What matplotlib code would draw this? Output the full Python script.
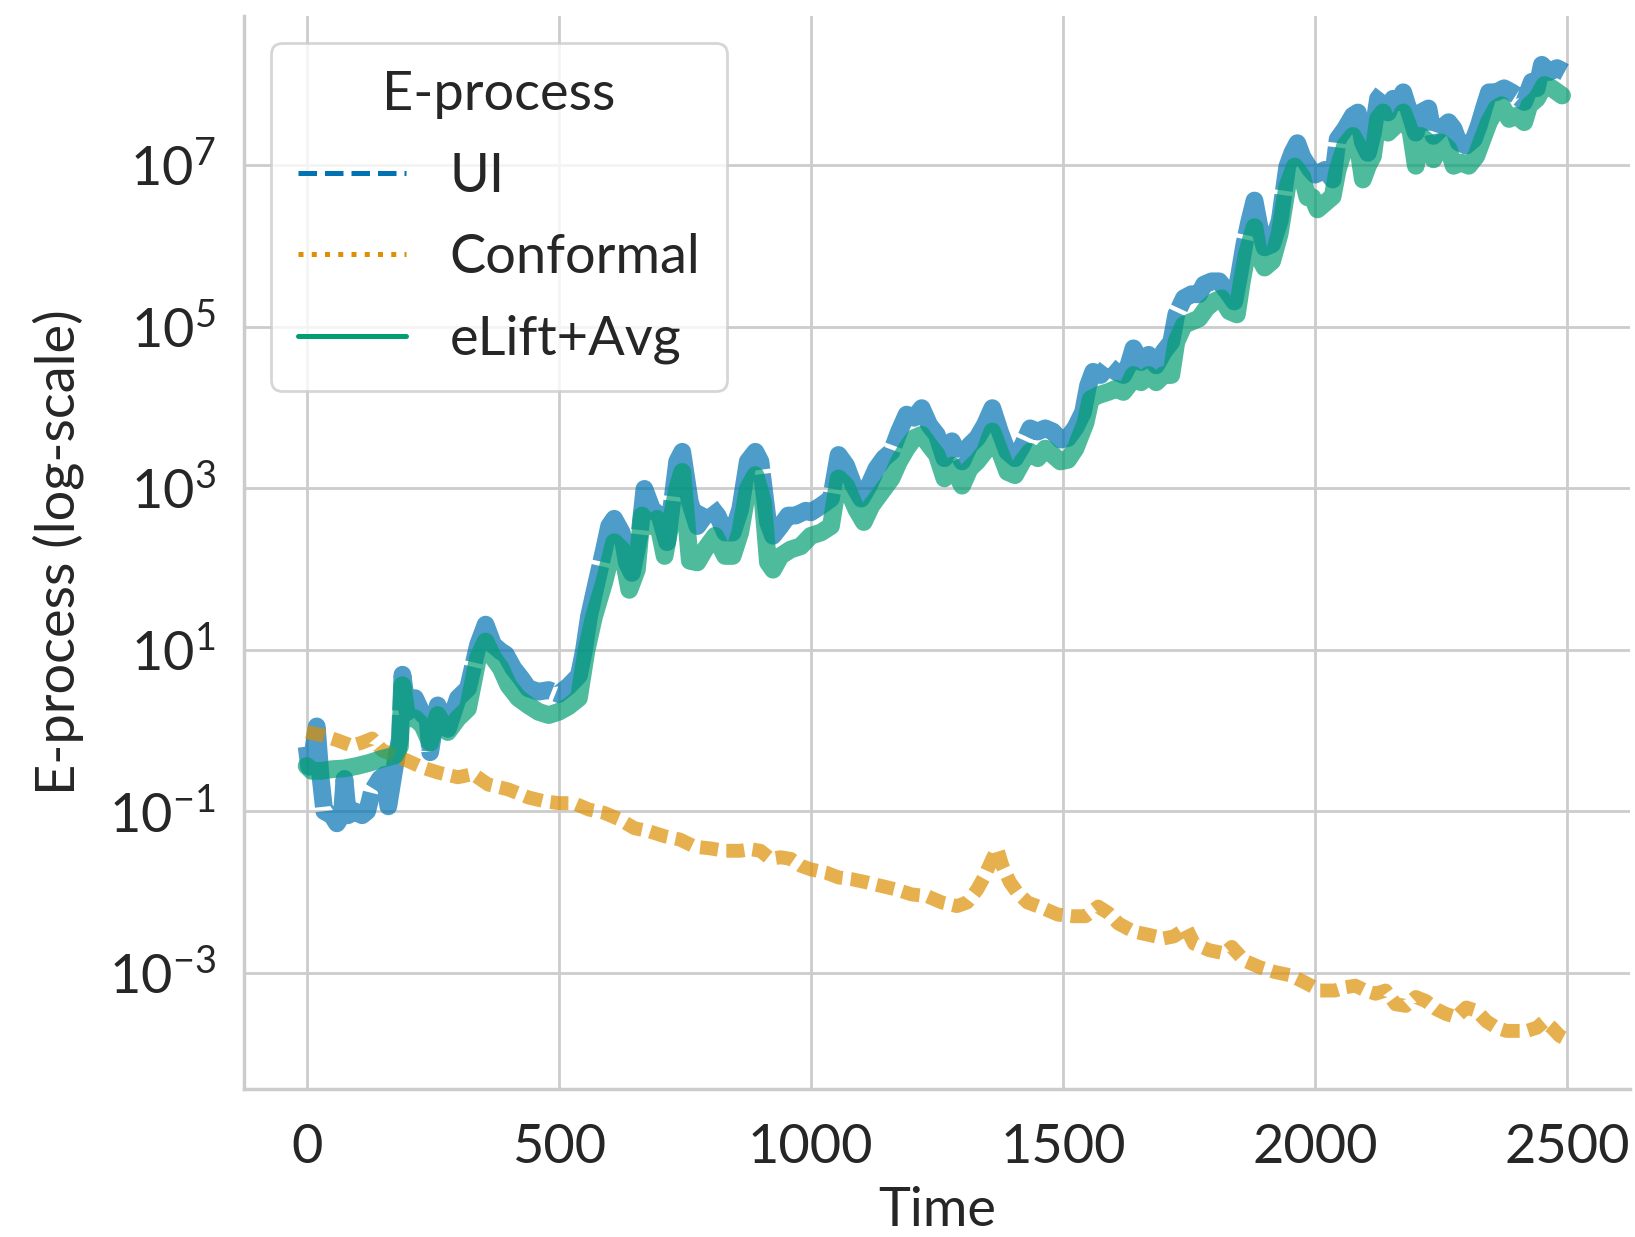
# -*- coding: utf-8 -*-

import numpy as np
import matplotlib
matplotlib.use("Agg")
import matplotlib.pyplot as plt
from matplotlib.lines import Line2D
from matplotlib.ticker import NullLocator
import seaborn as sns

# values, stored as log10 of the e-process
ui_t = [0, 5, 12, 20, 28, 35, 50, 60, 70, 75, 82, 95, 110, 120, 130, 145, 155, 162, 175, 185,
        190, 200, 215, 230, 240, 245, 260, 280, 300, 320, 340, 355, 370, 385, 395, 410, 425, 440,
        460, 480, 500, 520, 540, 550, 560, 575, 590, 600, 610, 625, 635, 645, 660, 670, 685, 700,
        715, 735, 745, 760, 775, 790, 800, 815, 830, 845, 860, 875, 890, 900, 915, 925, 940, 955,
        970, 990, 1000, 1020, 1040, 1055, 1070, 1085, 1100, 1115, 1130, 1145, 1160, 1175, 1190,
        1205, 1220, 1235, 1250, 1265, 1280, 1300, 1315, 1330, 1345, 1360, 1375, 1390, 1405, 1420,
        1435, 1450, 1465, 1480, 1495, 1510, 1525, 1540, 1550, 1560, 1575, 1590, 1605, 1620, 1630,
        1640, 1655, 1670, 1685, 1700, 1715, 1725, 1740, 1755, 1770, 1780, 1795, 1810, 1825, 1840,
        1850, 1860, 1870, 1880, 1890, 1900, 1915, 1930, 1945, 1955, 1965, 1975, 1990, 2000, 2020,
        2035, 2045, 2060, 2075, 2085, 2095, 2105, 2115, 2125, 2135, 2145, 2155, 2165, 2175, 2185,
        2200, 2210, 2225, 2235, 2250, 2265, 2275, 2285, 2300, 2315, 2325, 2335, 2345, 2360, 2375,
        2390, 2400, 2415, 2430, 2440, 2450, 2465, 2480, 2495]
ui_log = [-0.2, -0.45, -0.3, 0.05, -0.6, -1.0, -1.05, -1.15, -1.05, -0.6, -1.05, -1.0, -1.05, -1.0,
          -0.75, -0.6, -0.55, -0.94, -0.44, -0.1, 0.69, 0.23, 0.4, 0.2, 0.15, -0.27, 0.31, 0.02,
          0.4, 0.52, 1.06, 1.31, 1.06, 0.98, 0.94, 0.77, 0.65, 0.52, 0.48, 0.5, 0.45, 0.55, 0.68,
          0.99, 1.41, 1.83, 2.24, 2.53, 2.62, 2.45, 2.08, 1.95, 2.41, 2.99, 2.74, 2.66, 2.33, 3.33,
          3.45, 2.83, 2.53, 2.66, 2.78, 2.66, 2.45, 2.45, 2.74, 3.33, 3.45, 3.33, 2.58, 2.41, 2.53,
          2.66, 2.66, 2.72, 2.7, 2.78, 2.87, 3.41, 3.28, 3.03, 2.87, 3.03, 3.24, 3.37, 3.45, 3.7,
          3.91, 3.87, 3.99, 3.78, 3.66, 3.37, 3.58, 3.33, 3.53, 3.62, 3.78, 3.99, 3.7, 3.45, 3.37,
          3.53, 3.74, 3.7, 3.74, 3.7, 3.6, 3.62, 3.75, 3.94, 4.27, 4.44, 4.4, 4.52, 4.44, 4.4, 4.52,
          4.73, 4.56, 4.65, 4.52, 4.69, 4.81, 5.15, 5.35, 5.4, 5.4, 5.52, 5.56, 5.56, 5.44, 5.31,
          5.65, 6.02, 6.31, 6.56, 6.23, 5.98, 6.02, 6.31, 6.98, 7.15, 7.27, 7.1, 6.95, 6.88, 6.94,
          6.82, 7.32, 7.45, 7.61, 7.65, 7.28, 7.15, 7.4, 7.82, 7.9, 7.65, 7.82, 7.78, 7.9, 7.7,
          7.4, 7.65, 7.7, 7.36, 7.45, 7.53, 7.45, 7.28, 7.24, 7.32, 7.49, 7.7, 7.9, 7.9, 7.95,
          7.9, 7.86, 7.78, 8.03, 7.95, 8.24, 8.15, 8.2, 8.15]

conf_t = [0, 30, 60, 90, 110, 130, 150, 175, 200, 230, 260, 300, 330, 360, 400, 440, 470, 500, 530,
          560, 590, 620, 650, 680, 710, 740, 770, 800, 830, 860, 880, 900, 920, 940, 960, 980, 1000,
          1030, 1055, 1080, 1110, 1140, 1170, 1200, 1230, 1260, 1290, 1310, 1330, 1345, 1360, 1370,
          1380, 1395, 1410, 1430, 1460, 1490, 1520, 1545, 1570, 1590, 1610, 1640, 1670, 1700, 1720,
          1745, 1760, 1790, 1820, 1835, 1860, 1890, 1920, 1950, 1980, 2010, 2040, 2060, 2080, 2100,
          2120, 2140, 2160, 2180, 2200, 2220, 2240, 2260, 2280, 2300, 2320, 2340, 2360, 2380, 2400,
          2420, 2440, 2455, 2470, 2485, 2500]
conf_log = [-0.02, -0.06, -0.12, -0.19, -0.15, -0.1, -0.25, -0.31, -0.375, -0.46, -0.52, -0.58,
            -0.54, -0.67, -0.73, -0.83, -0.875, -0.9, -0.9, -0.98, -1.02, -1.1, -1.21, -1.25,
            -1.31, -1.35, -1.44, -1.46, -1.49, -1.49, -1.47, -1.49, -1.59, -1.57, -1.59, -1.675,
            -1.72, -1.76, -1.82, -1.84, -1.88, -1.925, -1.97, -2.03, -2.05, -2.13, -2.175, -2.13,
            -1.97, -1.8, -1.59, -1.47, -1.675, -1.88, -2.01, -2.13, -2.2, -2.28, -2.3, -2.3, -2.18,
            -2.26, -2.39, -2.49, -2.53, -2.575, -2.55, -2.45, -2.64, -2.72, -2.76, -2.68, -2.85,
            -2.93, -2.99, -3.03, -3.12, -3.22, -3.22, -3.18, -3.16, -3.22, -3.26, -3.22, -3.39,
            -3.41, -3.3, -3.35, -3.45, -3.51, -3.55, -3.43, -3.47, -3.6, -3.68, -3.72, -3.72,
            -3.72, -3.68, -3.6, -3.68, -3.78, -3.83]

elift_t = [0, 10, 30, 50, 75, 100, 125, 150, 175, 185, 190, 200, 215, 230, 245, 260, 280, 300, 320,
           340, 355, 370, 385, 400, 420, 440, 460, 480, 500, 520, 540, 555, 570, 590, 600, 610, 625,
           640, 655, 665, 680, 695, 710, 735, 745, 760, 775, 790, 810, 830, 845, 860, 875, 890, 905,
           915, 925, 940, 960, 980, 1000, 1020, 1040, 1055, 1070, 1090, 1105, 1120, 1140, 1160, 1175,
           1190, 1205, 1220, 1235, 1250, 1265, 1280, 1300, 1315, 1330, 1345, 1360, 1375, 1390, 1405,
           1420, 1435, 1450, 1465, 1480, 1495, 1510, 1525, 1545, 1555, 1570, 1590, 1605, 1620, 1630,
           1640, 1655, 1670, 1685, 1700, 1715, 1725, 1740, 1755, 1770, 1785, 1800, 1815, 1830, 1845,
           1855, 1865, 1880, 1890, 1900, 1915, 1930, 1945, 1960, 1975, 1985, 1995, 2005, 2020, 2035,
           2045, 2060, 2075, 2085, 2095, 2105, 2115, 2125, 2135, 2145, 2160, 2175, 2190, 2200, 2210,
           2225, 2235, 2250, 2265, 2275, 2290, 2305, 2320, 2330, 2345, 2360, 2370, 2385, 2400, 2415,
           2425, 2440, 2455, 2470, 2490]
elift_log = [-0.44, -0.5, -0.5, -0.48, -0.47, -0.44, -0.4, -0.35, -0.31, -0.2, 0.56, 0.15, 0.15,
             0.06, -0.15, 0.19, -0.02, 0.15, 0.27, 0.9, 1.1, 0.9, 0.77, 0.56, 0.4, 0.31, 0.23, 0.19,
             0.23, 0.3, 0.4, 0.99, 1.41, 1.83, 2.08, 2.33, 2.24, 1.74, 1.99, 2.66, 2.53, 2.62, 2.16,
             2.99, 3.2, 2.1, 2.08, 2.24, 2.41, 2.16, 2.16, 2.45, 2.99, 3.16, 2.83, 2.08, 1.99, 2.16,
             2.24, 2.28, 2.41, 2.45, 2.53, 3.12, 3.03, 2.74, 2.58, 2.78, 2.95, 3.12, 3.33, 3.49,
             3.62, 3.66, 3.53, 3.41, 3.12, 3.28, 3.03, 3.24, 3.33, 3.45, 3.7, 3.45, 3.2, 3.16, 3.33,
             3.45, 3.37, 3.49, 3.41, 3.33, 3.35, 3.49, 3.81, 4.1, 4.15, 4.19, 4.23, 4.19, 4.27, 4.4,
             4.31, 4.4, 4.31, 4.4, 4.4, 4.81, 5.02, 5.06, 5.1, 5.23, 5.31, 5.35, 5.19, 5.15, 5.56,
             5.9, 6.23, 5.85, 5.73, 5.81, 6.15, 6.73, 6.98, 6.85, 6.6, 6.6, 6.45, 6.53, 6.61, 6.94,
             7.24, 7.36, 7.24, 6.82, 6.99, 7.11, 7.57, 7.65, 7.4, 7.49, 7.65, 7.4, 6.99, 7.36, 7.28,
             7.07, 7.28, 7.2, 6.99, 7.03, 6.99, 7.11, 7.28, 7.53, 7.7, 7.74, 7.57, 7.61, 7.53, 7.74,
             7.82, 7.99, 7.95, 7.86]

names = ["UI", "Conformal", "eLift+Avg"]
colors = ["#0173b2", "#de8f05", "#029e73"]
ytick_vals = [1e-3, 1e-1, 1e1, 1e3, 1e5, 1e7]

sns.set_theme(style="whitegrid")
plt.rcParams["font.family"] = ["Lato", "DejaVu Sans"]
plt.rcParams["mathtext.fontset"] = "custom"
plt.rcParams["mathtext.rm"] = "Lato"
plt.rcParams["mathtext.it"] = "Lato:italic"

fig, ax = plt.subplots(figsize=(8.175, 6.185), dpi=200)
fig.subplots_adjust(left=0.149, right=0.997, bottom=0.12, top=0.987)

# thick translucent lines, as in the original figure
series = [(ui_t, ui_log, (0, (8, 0.25)), 6.4),
          (conf_t, conf_log, (0, (1.3, 0.6)), 5.0),
          (elift_t, elift_log, "-", 6.4)]
for (t, v, ls, lw), c in zip(series, colors):
    ax.plot(t, np.power(10.0, v), color=c, ls=ls, lw=lw, alpha=0.7,
            solid_capstyle="round", solid_joinstyle="round", dash_joinstyle="round")

ax.set_yscale("log")
ax.set_yticks(ytick_vals)
ax.yaxis.set_minor_locator(NullLocator())
ax.set_xticks([0, 500, 1000, 1500, 2000, 2500])
ax.tick_params(axis="both", length=0, labelsize=19.5, colors=".15")
ax.tick_params(axis="x", pad=12.5)
ax.tick_params(axis="y", pad=10)

ax.set_xlabel("Time", fontsize=19.5, color=".15", labelpad=5)
ax.set_ylabel("E-process (log-scale)", fontsize=19.5, color=".15", labelpad=9)

sns.despine(ax=ax)
for s in ["left", "bottom"]:
    ax.spines[s].set_color(".8")
    ax.spines[s].set_linewidth(1.25)

handles = [Line2D([0], [0], color=colors[0], ls="--", lw=1.8),
           Line2D([0], [0], color=colors[1], ls=":", lw=1.8),
           Line2D([0], [0], color=colors[2], ls="-", lw=1.8)]
leg = ax.legend(handles, names, title="E-process", loc="upper left",
                fontsize=19.5, title_fontsize=19.5, labelspacing=0.6, borderpad=0.5)

fig.savefig("out.png", dpi=200)
